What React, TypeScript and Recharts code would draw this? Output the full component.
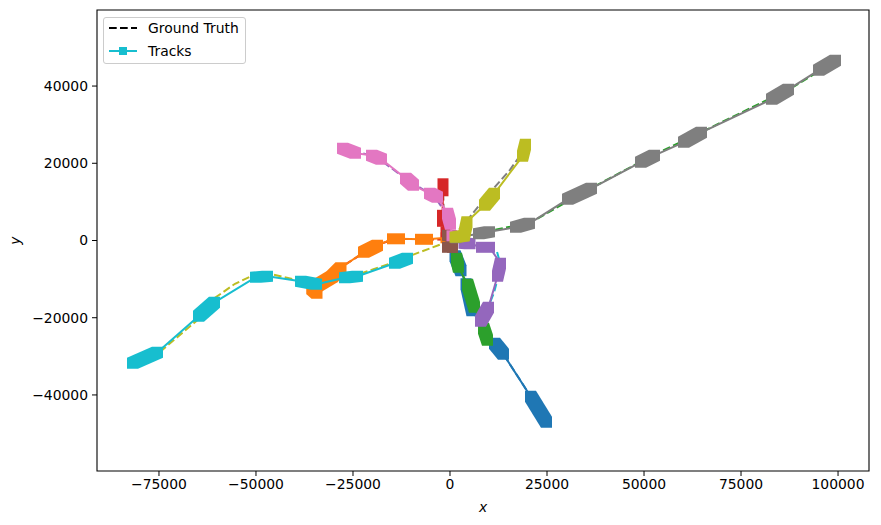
import React from "react";
import { ScatterChart, Scatter, XAxis, YAxis, ReferenceArea } from "recharts";

// tracks: each inner list is one dense run of detections, [x, y]
const blueTrack = [
  [[1289, -3963], [2835, -7848]],
  [[4123, -11215], [5669, -18208]],
  [[11468, -26625], [13787, -29474]],
  [[20745, -40352], [24868, -47086]],
];
const orangeTrack = [
  [[-34274, -13675], [-35562, -12510], [-30409, -9402], [-28089, -7071]],
  [[-22291, -3056], [-18683, -1243]],
  [[-14818, 440], [-13014, 440]],
  [[-7602, 311], [-5798, 311]],
  [[-1031, 699]],
];
const greenTrack = [
  [[1675, -4610], [2190, -6941]],
  [[4510, -11344], [6314, -17301]],
  [[8633, -22740], [9664, -25848]],
];
const redTrack = [
  [[-1804, 14685], [-1804, 12875]],
  [[-1933, 6527], [-1933, 4973]],
  [[-1031, 2253]],
];
const purpleTrack = [
  [[3608, -725], [5154, -855]],
  [[8118, -1761], [10179, -1761]],
  [[13014, -5905], [12241, -9272]],
  [[9921, -17301], [7860, -20927]],
];
const brownTrack = [[[-644, 1347], [258, 1217], [644, -1761], [-644, -1761]]];
const pinkTrack = [
  [[-27703, 23880], [-24352, 22585]],
  [[-20229, 22067], [-17652, 21031]],
  [[-11468, 16110], [-9406, 14297]],
  [[-5283, 12225], [-3221, 11189]],
  [[-644, 7045], [129, 4196]],
  [[515, 1217]],
];
const grayTrack = [
  [[1546, 699]],
  [[7344, 1735], [10179, 2253]],
  [[16879, 3419], [20487, 4455]],
  [[30280, 10671], [36465, 13520]],
  [[49092, 20254], [52700, 22067]],
  [[60173, 25434], [64812, 28024]],
  [[82853, 36571], [87234, 39161]],
  [[94962, 44082], [99343, 46672]],
];
const oliveTrack = [
  [[1289, 829], [3608, 1217], [4381, 4843]],
  [[8890, 9117], [11468, 12225]],
  [[18683, 21808], [19456, 24916]],
];
const cyanTrack = [
  [[-81820, -31805], [-75377, -28956]],
  [[-64812, -19632], [-60689, -16006]],
  [[-50123, -9531], [-47030, -9272]],
  [[-38526, -10567], [-34403, -11344]],
  [[-27187, -9661], [-23837, -9272]],
  [[-14302, -5905], [-10952, -4610]],
];

// ground truth paths
const gtBlue = [[515, -1891], [3092, -8107], [5669, -17949], [11597, -26755], [14174, -30122], [18039, -36079], [25255, -47475]];
const gtOrange = [[-1289, 181], [-6443, 311], [-14174, 440], [-19328, -1373], [-28347, -7071], [-35047, -13287]];
const gtGreen = [[1546, -3963], [4639, -12769], [9793, -26237]];
const gtRed = [[-1804, 15203], [-1546, 2253]];
const gtPurple = [[1289, 181], [7731, -1373], [12112, -2927], [13143, -6553], [11339, -13546], [8504, -20539]];
const gtBrown = [[-644, 1347], [-644, -1761]];
const gtPink = [[-27832, 24009], [-19070, 21678], [-10308, 15203], [-4123, 11577], [-258, 5879], [258, 1217]];
const gtGray = [[515, 699], [7731, 1994], [20616, 4584], [36078, 13390], [51540, 21678], [64425, 27894], [87618, 39290], [99987, 46801]];
const gtOlive = [[515, 699], [4123, 4843], [9535, 11577], [15462, 18311], [19843, 24527]];
const gtCyan = [
  [-82464, -32452], [-74733, -28826], [-64425, -20020], [-60560, -14841], [-55406, -11215],
  [-51025, -9143], [-46386, -8625], [-38655, -10438], [-34017, -10956], [-27059, -9402],
  [-23193, -8625], [-14174, -5517], [-10308, -3963], [-1289, -596],
];

const xTicks = [-75000, -50000, -25000, 0, 25000, 50000, 75000, 100000];
const yTicks = [-40000, -20000, 0, 20000, 40000];

const X_DOMAIN: [number, number] = [-90970, 107980];
const Y_DOMAIN: [number, number] = [-59700, 59700];

const tracks = [
  { color: "#1f77b4", blobs: blueTrack },
  { color: "#ff7f0e", blobs: orangeTrack },
  { color: "#2ca02c", blobs: greenTrack },
  { color: "#d62728", blobs: redTrack },
  { color: "#9467bd", blobs: purpleTrack },
  { color: "#8c564b", blobs: brownTrack },
  { color: "#e377c2", blobs: pinkTrack },
  { color: "#7f7f7f", blobs: grayTrack },
  { color: "#bcbd22", blobs: oliveTrack },
  { color: "#17becf", blobs: cyanTrack },
];

const truths = [
  { color: "#1f77b4", path: gtBlue },
  { color: "#d62728", path: gtOrange },
  { color: "#e377c2", path: gtGreen },
  { color: "#8c564b", path: gtRed },
  { color: "#17becf", path: gtPurple },
  { color: "#7f7f7f", path: gtBrown },
  { color: "#9467bd", path: gtPink },
  { color: "#2ca02c", path: gtGray },
  { color: "#7f7f7f", path: gtOlive },
  { color: "#bcbd22", path: gtCyan },
];

const FONT = "'DejaVu Sans', sans-serif";
const HALF = 5.5; // half side of the square marker, px

type P = { x: number; y: number };

// convex hull of the corners of two squares = the swept marker
function hull(pts: P[]): P[] {
  const s = [...pts].sort((a, b) => a.x - b.x || a.y - b.y);
  const cross = (o: P, a: P, b: P) => (a.x - o.x) * (b.y - o.y) - (a.y - o.y) * (b.x - o.x);
  const lower: P[] = [];
  for (const p of s) {
    while (lower.length >= 2 && cross(lower[lower.length - 2], lower[lower.length - 1], p) <= 0) lower.pop();
    lower.push(p);
  }
  const upper: P[] = [];
  for (let i = s.length - 1; i >= 0; i--) {
    const p = s[i];
    while (upper.length >= 2 && cross(upper[upper.length - 2], upper[upper.length - 1], p) <= 0) upper.pop();
    upper.push(p);
  }
  return lower.slice(0, -1).concat(upper.slice(0, -1));
}

const corners = (p: P) => [
  { x: p.x - HALF, y: p.y - HALF },
  { x: p.x + HALF, y: p.y - HALF },
  { x: p.x + HALF, y: p.y + HALF },
  { x: p.x - HALF, y: p.y + HALF },
];

function trackLine(blobs: number[][][], color: string) {
  const sizes = blobs.map((b) => b.length);
  return (props: any) => {
    const pts: P[] = (props.points || []).filter((p: P) => p.x != null && p.y != null);
    const polys: React.ReactNode[] = [];
    let k = 0;
    sizes.forEach((n, bi) => {
      const run = pts.slice(k, k + n);
      k += n;
      if (run.length === 1) {
        polys.push(<polygon key={`${bi}`} points={corners(run[0]).map((c) => `${c.x},${c.y}`).join(" ")} fill={color} />);
      }
      for (let i = 0; i + 1 < run.length; i++) {
        const h = hull([...corners(run[i]), ...corners(run[i + 1])]);
        polys.push(<polygon key={`${bi}-${i}`} points={h.map((c) => `${c.x},${c.y}`).join(" ")} fill={color} />);
      }
    });
    return (
      <g>
        <polyline
          points={pts.map((p) => `${p.x},${p.y}`).join(" ")}
          fill="none"
          stroke={color}
          strokeWidth={2}
          strokeLinejoin="round"
        />
        {polys}
      </g>
    );
  };
}

const noShape = () => <g />;
const fmt = (v: number) => String(v).replace("-", "\u2212");

function Legend() {
  return (
    <div
      style={{
        position: "absolute",
        left: 95,
        top: 9,
        width: 141,
        height: 45,
        border: "1px solid #cccccc",
        borderRadius: 3,
        background: "rgba(255,255,255,0.8)",
        fontFamily: FONT,
        fontSize: 13.9,
        color: "#000",
      }}
    >
      <svg width={40} height={45} style={{ position: "absolute", left: 0, top: 0 }}>
        <line x1={5} x2={33} y1={10} y2={10} stroke="#000" strokeWidth={2} strokeDasharray="7.7 3.3" />
        <line x1={5} x2={33} y1={33} y2={33} stroke="#17becf" strokeWidth={2} />
        <rect x={15} y={29} width={8} height={8} fill="#17becf" />
      </svg>
      <span style={{ position: "absolute", left: 44, top: 1, whiteSpace: "nowrap", lineHeight: "18px" }}>Ground Truth</span>
      <span style={{ position: "absolute", left: 44, top: 24, whiteSpace: "nowrap", lineHeight: "18px" }}>Tracks</span>
    </div>
  );
}

export default function App() {
  const tickStyle = { fill: "#000", fontSize: 13.9, fontFamily: FONT };
  return (
    <div style={{ position: "relative", width: 865, height: 509 }}>
      <ScatterChart width={865} height={509} margin={{ top: 2, right: 4, bottom: 0, left: 0 }}>
        <XAxis
          dataKey="x"
          type="number"
          domain={X_DOMAIN}
          allowDataOverflow
          ticks={xTicks}
          tickFormatter={fmt}
          height={46}
          tickSize={5}
          tickMargin={3}
          axisLine={false}
          tickLine={{ stroke: "#000" }}
          tick={tickStyle}
          label={{ value: "x", position: "insideBottom", offset: 5, style: { fill: "#000", fontSize: 13.9, fontFamily: FONT, fontStyle: "italic" } }}
        />
        <YAxis
          dataKey="y"
          type="number"
          domain={Y_DOMAIN}
          allowDataOverflow
          ticks={yTicks}
          tickFormatter={fmt}
          width={89}
          tickSize={5}
          tickMargin={4}
          axisLine={false}
          tickLine={{ stroke: "#000" }}
          tick={tickStyle}
          label={{ value: "y", angle: -90, position: "insideLeft", offset: 7, style: { fill: "#000", fontSize: 13.9, fontFamily: FONT, fontStyle: "italic", textAnchor: "middle" } }}
        />
        {truths.map((t, i) => (
          <Scatter
            key={`gt-${i}`}
            data={t.path.map(([x, y]) => ({ x, y }))}
            fill={t.color}
            shape={noShape}
            line={{ stroke: t.color, strokeWidth: 2, strokeDasharray: "7.7 3.3" }}
            lineJointType="linear"
            isAnimationActive={false}
            legendType="none"
          />
        ))}
        {tracks.map((t, i) => (
          <Scatter
            key={`tr-${i}`}
            data={t.blobs.flat().map(([x, y]) => ({ x, y }))}
            fill={t.color}
            shape={noShape}
            line={trackLine(t.blobs, t.color)}
            isAnimationActive={false}
            legendType="none"
          />
        ))}
        <ReferenceArea
          x1={X_DOMAIN[0]}
          x2={X_DOMAIN[1]}
          y1={Y_DOMAIN[0]}
          y2={Y_DOMAIN[1]}
          fill="none"
          stroke="#000"
          strokeWidth={1.1}
          ifOverflow="visible"
        />
      </ScatterChart>
      <Legend />
    </div>
  );
}
